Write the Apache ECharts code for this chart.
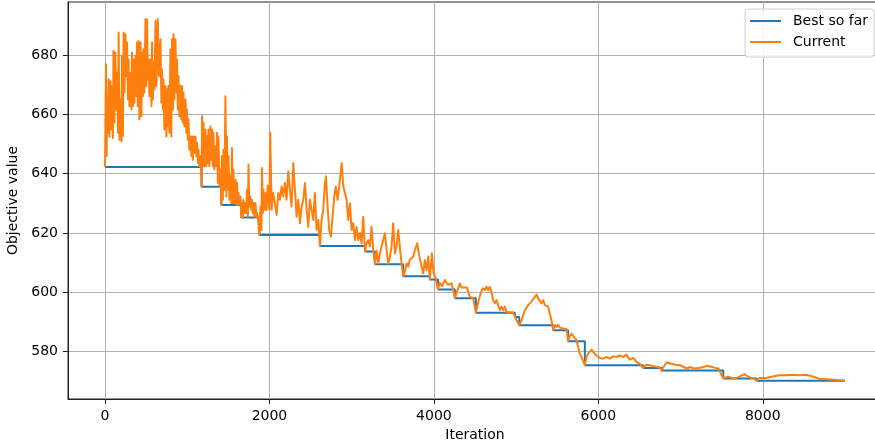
<!DOCTYPE html>
<html>
<head>
<meta charset="utf-8">
<script src="https://cdn.jsdelivr.net/npm/echarts@6/dist/echarts.min.js"></script>
<style>
  html, body { margin: 0; padding: 0; background: #ffffff; }
  #chart { width: 875px; height: 447px; }
</style>
</head>
<body>
<div id="chart"></div>
<script>
// Running best objective: [iteration where a new best appears, value]
const bestSoFar = [
  [0, 642.3], [1175, 635.6], [1415, 629.4], [1658, 625.2], [1877, 619.3], [2614, 615.6],
  [3162, 613.7], [3283, 609.4], [3627, 605.4], [3951, 604.3], [4050, 600.9], [4255, 597.9],
  [4511, 593.0], [4985, 591.6], [5038, 588.8], [5451, 587.1], [5633, 583.4], [5836, 575.3],
  [6545, 574.4], [6768, 573.5], [7520, 570.8], [7927, 570.1], [9000, 570.1]
];

// Objective of the current solution: [iteration, value]
const currentTrace = [
  [0, 642.3], [6, 660.0], [12, 677.0], [20, 646.0], [26, 666.1], [34, 653.9], [44, 671.9], [54, 652.5],
  [66, 671.2], [78, 654.9], [86, 669.6], [96, 652.1], [103, 681.5], [114, 657.2], [126, 680.9], [140, 661.7],
  [146, 674.1], [158, 653.8], [166, 687.7], [176, 651.5], [188, 665.1], [200, 650.9], [207, 679.8], [218, 652.7],
  [226, 687.7], [236, 667.4], [248, 687.1], [260, 673.0], [268, 684.3], [279, 665.1], [286, 678.6], [297, 662.8],
  [310, 674.1], [322, 661.7], [328, 680.9], [340, 662.8], [347, 678.6], [358, 664.0], [371, 679.8], [383, 666.2],
  [389, 684.3], [400, 662.8], [407, 684.8], [418, 658.3], [432, 684.3], [443, 659.4], [450, 680.9], [461, 666.2],
  [468, 682.0], [479, 667.4], [492, 692.2], [503, 669.6], [511, 692.2], [522, 671.9], [529, 678.6], [540, 666.2],
  [553, 678.6], [565, 662.8], [572, 684.3], [583, 665.1], [590, 677.5], [601, 668.5], [614, 691.6], [625, 669.6],
  [642, 692.2], [656, 673.0], [675, 685.4], [686, 664.0], [693, 675.3], [704, 661.7], [711, 671.9], [722, 654.9],
  [736, 669.6], [747, 652.6], [754, 668.5], [765, 656.0], [772, 669.6], [783, 653.8], [796, 682.0], [807, 652.6],
  [815, 685.4], [826, 661.7], [833, 687.1], [844, 665.1], [857, 685.4], [868, 667.4], [875, 678.6], [886, 661.7],
  [894, 673.0], [905, 659.4], [918, 669.6], [929, 658.3], [936, 669.6], [947, 657.2], [954, 667.4], [965, 656.0],
  [979, 665.1], [990, 653.8], [997, 661.7], [1008, 651.5], [1015, 658.3], [1026, 648.1], [1040, 652.6], [1051, 645.9],
  [1058, 652.6], [1069, 644.7], [1076, 652.6], [1087, 647.0], [1100, 652.6], [1111, 645.9], [1119, 650.4], [1130, 643.6],
  [1137, 648.1], [1148, 642.5], [1161, 645.9], [1175, 635.6], [1180, 659.4], [1190, 642.5], [1198, 657.2], [1209, 642.5],
  [1222, 654.9], [1233, 642.5], [1240, 652.6], [1251, 643.6], [1258, 654.9], [1269, 642.5], [1283, 656.0], [1294, 644.7],
  [1301, 654.9], [1312, 642.5], [1319, 653.8], [1330, 641.4], [1344, 649.3], [1355, 642.5], [1362, 653.8], [1373, 636.9],
  [1380, 652.6], [1391, 635.8], [1404, 641.4], [1415, 629.4], [1422, 645.9], [1433, 631.2], [1441, 648.1], [1452, 634.6],
  [1465, 666.2], [1476, 632.3], [1483, 652.6], [1494, 634.6], [1502, 645.9], [1513, 631.2], [1526, 639.1], [1537, 630.1],
  [1544, 648.7], [1555, 630.1], [1562, 641.4], [1573, 630.1], [1587, 638.0], [1598, 629.5], [1605, 637.0], [1616, 629.5],
  [1623, 633.5], [1634, 629.6], [1647, 632.3], [1658, 625.2], [1666, 630.1], [1677, 625.3], [1684, 631.2], [1695, 626.7],
  [1708, 630.1], [1719, 626.7], [1727, 634.6], [1738, 625.5], [1745, 643.1], [1756, 628.9], [1769, 632.3], [1780, 627.8],
  [1787, 631.2], [1798, 626.7], [1806, 630.1], [1817, 625.5], [1830, 630.1], [1841, 625.5], [1848, 626.7], [1859, 625.4],
  [1866, 625.5], [1877, 619.3], [1891, 628.9], [1902, 621.0], [1909, 641.9], [1920, 626.7], [1927, 634.6], [1938, 627.8],
  [1951, 633.5], [1962, 627.8], [1980, 636.0], [1998, 628.0], [2010, 653.8], [2026, 627.8], [2046, 633.5], [2066, 630.0],
  [2087, 626.1], [2107, 633.5], [2127, 631.2], [2148, 635.7], [2168, 632.3], [2188, 636.9], [2208, 631.2], [2229, 640.8],
  [2249, 634.6], [2269, 628.9], [2290, 643.6], [2310, 634.6], [2330, 625.5], [2350, 631.2], [2371, 623.3], [2391, 628.9],
  [2411, 631.2], [2432, 636.9], [2452, 627.8], [2472, 622.1], [2492, 631.2], [2513, 627.8], [2533, 624.4], [2553, 633.5],
  [2573, 621.0], [2594, 624.4], [2614, 615.6], [2634, 624.4], [2654, 627.8], [2675, 636.9], [2687, 639.1], [2707, 628.9],
  [2727, 621.0], [2748, 618.8], [2768, 625.5], [2788, 632.3], [2808, 635.7], [2829, 631.2], [2849, 635.7], [2878, 643.6],
  [2898, 635.7], [2918, 633.5], [2938, 631.2], [2959, 624.4], [2979, 630.0], [2999, 621.0], [3019, 623.3], [3040, 617.6],
  [3060, 622.0], [3080, 617.6], [3101, 620.0], [3121, 616.5], [3141, 625.5], [3162, 613.7], [3182, 616.5], [3202, 617.6],
  [3222, 615.4], [3242, 622.1], [3263, 614.2], [3283, 609.4], [3303, 614.0], [3324, 609.7], [3344, 613.1], [3364, 615.4],
  [3384, 617.6], [3404, 619.9], [3425, 614.2], [3445, 609.7], [3465, 611.9], [3485, 615.4], [3505, 623.3], [3526, 613.1],
  [3546, 615.4], [3566, 621.0], [3576, 621.0], [3590, 614.0], [3607, 609.7], [3627, 605.4], [3648, 607.0], [3668, 609.7],
  [3688, 608.6], [3708, 611.0], [3729, 610.8], [3749, 612.0], [3769, 614.2], [3797, 616.5], [3817, 613.0], [3850, 608.6],
  [3870, 606.3], [3890, 610.8], [3911, 607.4], [3931, 612.0], [3951, 604.3], [3976, 613.1], [3996, 606.3], [4020, 604.8],
  [4050, 600.9], [4070, 603.2], [4100, 602.0], [4133, 604.1], [4170, 602.5], [4214, 603.0], [4240, 600.2], [4255, 597.9],
  [4295, 601.3], [4315, 602.9], [4335, 601.6], [4355, 601.3], [4400, 601.6], [4420, 599.9], [4436, 598.4], [4477, 598.0],
  [4511, 593.0], [4538, 596.4], [4558, 598.6], [4591, 601.3], [4620, 600.7], [4640, 601.8], [4660, 600.7], [4680, 601.8],
  [4700, 600.2], [4720, 597.3], [4741, 596.2], [4761, 597.3], [4802, 593.9], [4822, 595.1], [4843, 593.9], [4863, 595.1],
  [4883, 593.3], [4924, 593.2], [4964, 593.1], [4985, 591.6], [5005, 592.2], [5038, 588.8], [5066, 590.5], [5106, 593.9],
  [5147, 595.6], [5187, 596.8], [5228, 598.4], [5249, 599.2], [5268, 597.9], [5289, 597.3], [5309, 596.2], [5329, 597.3],
  [5350, 595.6], [5370, 596.2], [5390, 595.1], [5410, 592.8], [5430, 590.5], [5451, 587.1], [5471, 588.9], [5491, 588.2],
  [5511, 589.0], [5532, 588.0], [5552, 588.6], [5572, 587.7], [5592, 587.3], [5613, 587.5], [5633, 583.4], [5653, 585.0],
  [5673, 586.0], [5694, 586.5], [5714, 584.5], [5734, 583.8], [5754, 581.5], [5775, 579.2], [5795, 578.1], [5836, 575.3],
  [5856, 578.1], [5876, 579.2], [5897, 579.8], [5917, 580.6], [5937, 579.8], [5957, 579.2], [5977, 578.6], [5998, 578.1],
  [6018, 577.8], [6058, 577.5], [6099, 578.1], [6139, 577.5], [6180, 578.3], [6220, 578.1], [6261, 578.6], [6301, 578.1],
  [6342, 578.9], [6362, 579.3], [6382, 577.2], [6423, 577.8], [6451, 576.9], [6476, 576.2], [6505, 575.8], [6545, 574.4],
  [6585, 575.5], [6626, 575.3], [6666, 575.0], [6707, 574.8], [6740, 574.7], [6768, 573.5], [6807, 575.4], [6835, 576.3],
  [6876, 575.9], [6936, 575.5], [6997, 575.3], [7038, 574.7], [7078, 574.2], [7119, 574.7], [7159, 574.2], [7220, 574.4],
  [7281, 574.7], [7321, 575.1], [7362, 574.9], [7422, 574.4], [7463, 574.2], [7498, 572.0], [7520, 570.8], [7577, 571.5],
  [7617, 571.1], [7658, 570.9], [7698, 571.2], [7739, 571.8], [7779, 572.3], [7820, 571.5], [7860, 571.0], [7900, 570.6],
  [7927, 570.1], [7960, 571.0], [8041, 571.0], [8122, 571.5], [8203, 571.9], [8284, 571.9], [8365, 572.1], [8446, 571.9],
  [8527, 572.1], [8608, 571.5], [8689, 570.7], [8710, 570.4], [8770, 570.6], [8851, 570.4], [8932, 570.2], [9000, 570.1]
];

// Tick positions
const xTicks = [0, 2000, 4000, 6000, 8000];
const yTicks = [580, 600, 620, 640, 660, 680];

const FONT = 'DejaVu Sans';
const FONT_SIZE = 14;
const BLUE = '#1f77b4';
const ORANGE = '#ff7f0e';
const INK = '#222222';

const chart = echarts.init(document.getElementById('chart'), null, { renderer: 'canvas' });

chart.setOption({
  animation: false,
  backgroundColor: '#ffffff',
  grid: {
    // the plot box runs a few pixels past the right edge of the canvas
    left: 68, top: 2, width: 814, bottom: 48,
    outerBoundsMode: 'none',
    containLabel: false,
    show: true, borderColor: INK, borderWidth: 1, backgroundColor: 'transparent'
  },
  legend: {
    orient: 'vertical',
    left: 745, top: 9,
    padding: [5, 6, 8, 4],
    itemWidth: 31, itemHeight: 14, itemGap: 7,
    itemStyle: { opacity: 0 },
    backgroundColor: 'rgba(255,255,255,0.85)',
    borderColor: '#d0d0d0', borderWidth: 1, borderRadius: 3,
    textStyle: { fontFamily: FONT, fontSize: FONT_SIZE, color: '#000', padding: [0, 0, 0, 7] },
    data: ['Best so far', 'Current']
  },
  xAxis: {
    type: 'value',
    min: -450, max: 9450,
    name: 'Iteration', nameLocation: 'middle', nameGap: 29,
    nameTextStyle: { fontFamily: FONT, fontSize: FONT_SIZE, color: '#000' },
    axisLine: { show: true, onZero: false, lineStyle: { color: INK, width: 1 } },
    axisTick: { show: true, length: 5, lineStyle: { color: INK }, customValues: xTicks },
    axisLabel: {
      fontFamily: FONT, fontSize: FONT_SIZE, color: '#000', margin: 10,
      customValues: xTicks, formatter: v => String(v)
    },
    splitLine: { show: true, lineStyle: { color: '#b0b0b0', width: 1 } }
  },
  yAxis: {
    type: 'value',
    min: 563.9, max: 698.0,
    name: 'Objective value', nameLocation: 'middle', nameGap: 43,
    nameTextStyle: { fontFamily: FONT, fontSize: FONT_SIZE, color: '#000' },
    axisLine: { show: true, onZero: false, lineStyle: { color: INK, width: 1 } },
    axisTick: { show: true, length: 5, lineStyle: { color: INK }, customValues: yTicks },
    axisLabel: {
      fontFamily: FONT, fontSize: FONT_SIZE, color: '#000', margin: 10,
      customValues: yTicks, formatter: v => String(v)
    },
    splitLine: { show: true, lineStyle: { color: '#b0b0b0', width: 1 } }
  },
  series: [
    {
      name: 'Best so far',
      type: 'line',
      step: 'end',
      data: bestSoFar,
      symbol: 'none',
      color: BLUE,
      lineStyle: { color: BLUE, width: 2 },
      z: 2
    },
    {
      name: 'Current',
      type: 'line',
      data: currentTrace,
      symbol: 'none',
      color: ORANGE,
      lineStyle: { color: ORANGE, width: 2, join: 'round' },
      z: 3
    }
  ]
});
</script>
</body>
</html>
